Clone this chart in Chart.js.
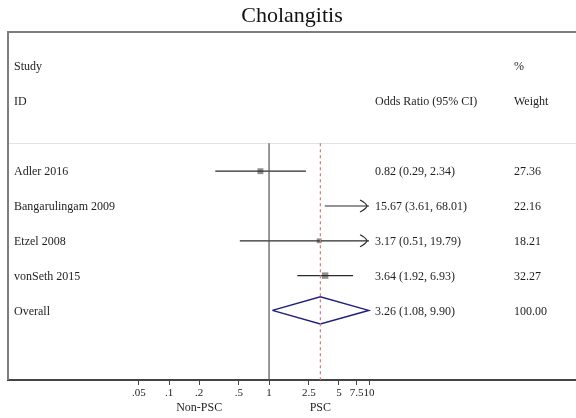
<!DOCTYPE html>
<html lang="en">
<head>
    <meta charset="UTF-8">
    <title>Cholangitis - forest plot</title>
    <script src="https://cdn.jsdelivr.net/npm/chart.js@4.4.1/dist/chart.umd.min.js"></script>
    <style>
        body { margin: 0; background: #fff; }
        #wrap { width: 576px; height: 418px; }
    </style>
</head>
<body>
<div id="wrap">
    <canvas id="forest" width="576" height="418"></canvas>
</div>

<script>
    // datos del grafico
    const studies = ['Adler 2016', 'Bangarulingam 2009', 'Etzel 2008', 'vonSeth 2015'];
    const oddsRatio = [0.82, 15.67, 3.17, 3.64];
    const ciLower = [0.29, 3.61, 0.51, 1.92];
    const ciUpper = [2.34, 68.01, 19.79, 6.93];
    const weights = [27.36, 22.16, 18.21, 32.27];

    const overallLabel = 'Overall';
    const overallOR = 3.26;
    const overallLower = 1.08;
    const overallUpper = 9.90;
    const overallWeight = 100.00;

    const tickValues = [0.05, 0.1, 0.2, 0.5, 1, 2.5, 5, 7.5, 10];
    const tickLabels = ['.05', '.1', '.2', '.5', '1', '2.5', '5', '7.5', '10'];
    const sideLabels = ['Non-PSC', 'PSC'];

    const serif = '"Liberation Serif", "DejaVu Serif", serif';
    const plotMin = tickValues[0];
    const plotMax = tickValues[tickValues.length - 1];
    const overallRow = studies.length + 1;
    const sepRow = 0.2;

    const fmt = (v) => v.toFixed(2);
    const clip = (v) => Math.min(Math.max(v, plotMin), plotMax);

    // lineas de intervalo de confianza, una por estudio
    const ciSets = studies.map((s, i) => ({
        label: s,
        data: [{x: clip(ciLower[i]), y: i + 1}, {x: clip(ciUpper[i]), y: i + 1}],
        showLine: true,
        borderColor: '#2b2b2b',
        borderWidth: 1.2,
        pointRadius: 0
    }));

    const shown = studies.map((s, i) => i).filter(i => oddsRatio[i] <= plotMax && oddsRatio[i] >= plotMin);

    const datasets = [
        {
            label: 'null',
            data: [{x: 1, y: sepRow}, {x: 1, y: 7}],
            showLine: true, borderColor: '#555', borderWidth: 1.2, pointRadius: 0
        },
        {
            label: 'overall line',
            data: [{x: overallOR, y: sepRow}, {x: overallOR, y: 7}],
            showLine: true, borderColor: '#d9777a', borderWidth: 1.2, borderDash: [3, 3], pointRadius: 0
        },
        ...ciSets,
        {
            label: 'weights',
            data: shown.map(i => ({x: oddsRatio[i], y: i + 1})),
            pointStyle: 'rect',
            pointRadius: shown.map(i => 0.8 * Math.sqrt(weights[i])),
            backgroundColor: '#8f8f8f',
            borderWidth: 0
        },
        {
            label: 'estimates',
            data: shown.map(i => ({x: oddsRatio[i], y: i + 1})),
            pointRadius: 1.6,
            backgroundColor: '#000',
            borderWidth: 0
        },
        {
            label: 'diamond',
            data: [
                {x: overallLower, y: overallRow},
                {x: overallOR, y: overallRow - 0.39},
                {x: overallUpper, y: overallRow},
                {x: overallOR, y: overallRow + 0.39},
                {x: overallLower, y: overallRow}
            ],
            showLine: true, borderColor: '#1f1f7a', borderWidth: 1.5, pointRadius: 0, tension: 0
        }
    ];

    // marco, flechas y columnas de texto
    const forestExtras = {
        id: 'forestExtras',
        beforeDatasetsDraw(chart) {
            const {ctx, chartArea: a, scales: {y}} = chart;
            ctx.save();
            ctx.strokeStyle = '#e2e2e2';
            ctx.lineWidth = 1;
            ctx.beginPath();
            const ys = Math.round(y.getPixelForValue(sepRow)) + 0.5;
            ctx.moveTo(a.left, ys);
            ctx.lineTo(a.right, ys);
            ctx.stroke();
            ctx.strokeStyle = '#7d7d7d';
            ctx.lineWidth = 2;
            ctx.beginPath();
            ctx.moveTo(a.left, a.bottom);
            ctx.lineTo(a.left, a.top);
            ctx.lineTo(a.right, a.top);
            ctx.stroke();
            ctx.restore();
        },
        afterDatasetsDraw(chart) {
            const {ctx, chartArea: a, scales: {x, y}} = chart;
            ctx.save();
            // flechas para intervalos recortados
            ctx.strokeStyle = '#2b2b2b';
            ctx.lineWidth = 1.2;
            studies.forEach((s, i) => {
                if (ciUpper[i] <= plotMax) return;
                const px = x.getPixelForValue(plotMax) - 2;
                const py = y.getPixelForValue(i + 1);
                ctx.beginPath();
                ctx.moveTo(px - 7, py - 6);
                ctx.quadraticCurveTo(px - 1, py - 3, px, py);
                ctx.quadraticCurveTo(px - 1, py + 3, px - 7, py + 6);
                ctx.stroke();
            });

            ctx.fillStyle = '#1e1e1e';
            ctx.font = '12px ' + serif;
            ctx.textBaseline = 'middle';
            ctx.textAlign = 'left';
            const colStudy = a.left + 6;
            const colOR = 375;
            const colW = 514;
            const hy1 = y.getPixelForValue(-2);
            const hy2 = y.getPixelForValue(-1);
            ctx.fillText('Study', colStudy, hy1);
            ctx.fillText('%', colW, hy1);
            ctx.fillText('ID', colStudy, hy2);
            ctx.fillText('Odds Ratio (95% CI)', colOR, hy2);
            ctx.fillText('Weight', colW, hy2);

            studies.forEach((s, i) => {
                const py = y.getPixelForValue(i + 1) + 1;
                ctx.fillText(s, colStudy, py);
                ctx.fillText(`${fmt(oddsRatio[i])} (${fmt(ciLower[i])}, ${fmt(ciUpper[i])})`, colOR, py);
                ctx.fillText(fmt(weights[i]), colW, py);
            });
            const oy = y.getPixelForValue(overallRow) + 1;
            ctx.fillText(overallLabel, colStudy, oy);
            ctx.fillText(`${fmt(overallOR)} (${fmt(overallLower)}, ${fmt(overallUpper)})`, colOR, oy);
            ctx.fillText(fmt(overallWeight), colW, oy);

            // etiquetas a cada lado del 1
            ctx.textAlign = 'center';
            const sy = a.bottom + 28;
            ctx.fillText(sideLabels[0], x.getPixelForValue(0.2), sy);
            ctx.fillText(sideLabels[1], x.getPixelForValue(overallOR), sy);
            ctx.restore();
        }
    };

    new Chart(document.getElementById('forest'), {
        type: 'scatter',
        data: {datasets},
        plugins: [forestExtras],
        options: {
            responsive: false,
            animation: false,
            events: [],
            layout: {autoPadding: false, padding: {left: 8, right: 0, top: 0, bottom: 0}},
            plugins: {
                legend: {display: false},
                tooltip: {enabled: false},
                title: {
                    display: true,
                    text: 'Cholangitis',
                    fullSize: false,
                    color: '#111',
                    font: {family: serif, size: 22, weight: 'normal', lineHeight: 1.2},
                    padding: {top: 3, bottom: 2.6}
                }
            },
            scales: {
                x: {
                    type: 'logarithmic',
                    min: 0.00245,
                    max: 1175,
                    afterBuildTicks: (s) => { s.ticks = tickValues.map(v => ({value: v})); },
                    afterFit: (s) => { s.height = 38; },
                    ticks: {
                        autoSkip: false,
                        maxRotation: 0,
                        padding: 2,
                        color: '#222',
                        font: {family: serif, size: 11},
                        callback: (v) => tickLabels[tickValues.indexOf(v)]
                    },
                    grid: {drawOnChartArea: false, tickLength: 5, color: '#444', lineWidth: 1},
                    border: {display: true, color: '#444', width: 2}
                },
                y: {
                    type: 'linear',
                    min: -3,
                    max: 7,
                    reverse: true,
                    display: false
                }
            }
        }
    });
</script>
</body>
</html>
